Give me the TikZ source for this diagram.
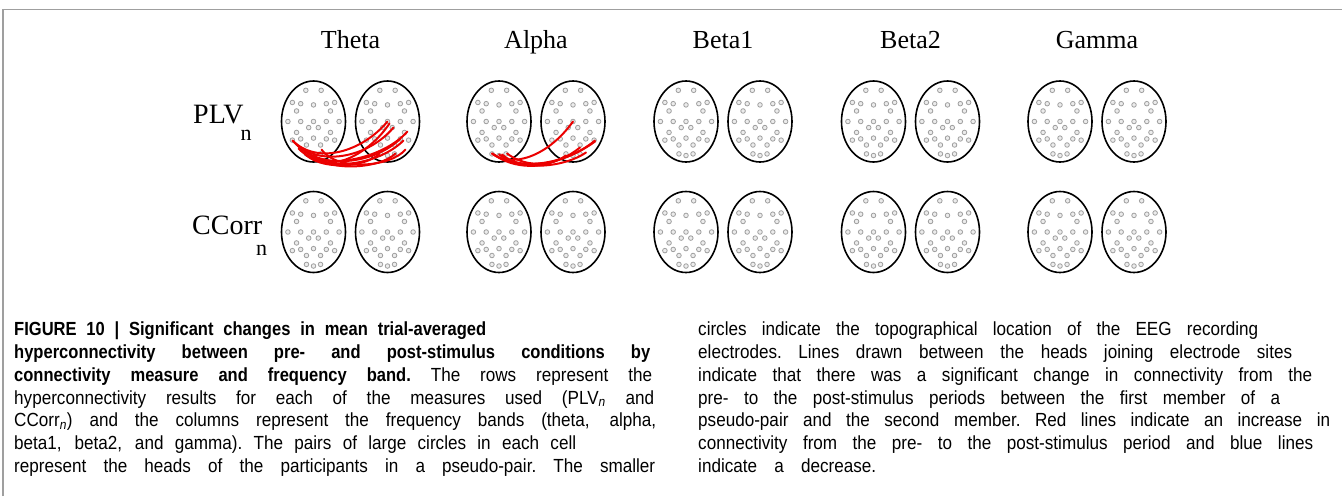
\documentclass[tikz,border=0pt]{standalone}
\usepackage{amsmath}
\usepackage{fontspec}
\usepackage{tikz}
\tikzset{>=latex}
\usetikzlibrary{calc,shapes.geometric,positioning}
\newfontfamily\headfont{Liberation Serif}
\newfontfamily\capfont[FakeStretch=0.9,BoldFeatures={FakeStretch=0.87}]{Liberation Sans}
\tikzset{
  head/.style={draw=black, line width=1.6pt, ellipse, minimum width=64pt, minimum height=81pt, inner sep=0pt},
  elec/.style={draw=gray!75, fill=gray!15, line width=0.8pt},
  link/.style={draw=red!92!black, line width=2pt, line cap=round},
  bandlabel/.style={font=\headfont\fontsize{26}{30}\selectfont, anchor=base, inner sep=0pt},
  measure/.style={font=\headfont\fontsize{28}{30}\selectfont, anchor=base west, inner sep=0pt},
  captext/.style={font=\capfont\fontsize{19}{22.7}\selectfont, text width=660pt, align=left, anchor=north west, inner sep=0pt},
  frame/.style={draw=gray!75, line width=1.5pt}
}
\newcommand{\capline}[2]{{\spaceskip=0.27em plus 1fil\xspaceskip=\spaceskip\makebox[#1pt][s]{#2}}}
\newcommand{\electrodes}[1]{%
  \foreach \u/\v in {-0.24/-0.77,0.24/-0.77,
    -0.66/-0.47,-0.40/-0.44,0/-0.41,0.40/-0.44,0.66/-0.47,
    -0.53/-0.26,0.53/-0.26,
    -0.80/0,-0.40/0,0/0,0.40/0,0.80/0,
    -0.15/0.15,0.15/0.15,
    -0.53/0.27,0.53/0.27,
    -0.66/0.46,-0.40/0.43,0/0.41,0.40/0.43,0.66/0.46,
    -0.22/0.58,0.22/0.58,
    -0.22/0.80,0/0.84,0.22/0.80}
  {
    \draw[elec] ($(#1)+({\u*32},{\v*40.5})$) circle (2.3);
  }%
}

\begin{document}
\begin{tikzpicture}[x=1pt,y=-1pt]
  \useasboundingbox (0,0) rectangle (1342,496);
  \draw[frame] (3,496) -- (3,9.5) -- (1342,9.5);

  \foreach \band/\name/\x in {theta/Theta/350.5,alpha/Alpha/536,betaA/Beta1/723,betaB/Beta2/910.5,gamma/Gamma/1097}
  {
    \node[bandlabel] (\band lab) at (\x,48) {\name};
    \foreach \row/\y in {plv/121.5,ccorr/232}
    {
      \node[head] (\band\row L) at (\x-37,\y) {};
      \node[head] (\band\row R) at (\x+37,\y) {};
      \electrodes{\band\row L}
      \electrodes{\band\row R}
    }
  }

  \node[measure] (plvlab) at (193,123) {PLV\kern-3pt\raisebox{-17pt}{\fontsize{22}{22}\selectfont n}};
  \node[measure] (ccorrlab) at (192,234) {CCorr\kern-6pt\raisebox{-21pt}{\fontsize{22}{22}\selectfont n}};

  \draw[link] ($(thetaplvL)+(-21,19)$) .. controls +(25,25) and +(-25,30) .. ($(thetaplvR)+(0,0)$);
  \draw[link] ($(thetaplvL)+(-21,19)$) .. controls +(25,28) and +(-25,30) .. ($(thetaplvR)+(6,6)$);
  \draw[link] ($(thetaplvL)+(-18,22)$) .. controls +(25,28) and +(-25,25) .. ($(thetaplvR)+(13,17)$);
  \draw[link] ($(thetaplvL)+(-15,27)$) .. controls +(22,24) and +(-25,28) .. ($(thetaplvR)+(20,10)$);
  \draw[link] ($(thetaplvL)+(-10,31)$) .. controls +(20,20) and +(-25,25) .. ($(thetaplvR)+(16,19)$);
  \draw[link] ($(thetaplvL)+(-10,31)$) .. controls +(15,18) and +(-15,15) .. ($(thetaplvR)+(-8,32)$);
  \draw[link] ($(thetaplvL)+(-4,32)$) .. controls +(20,22) and +(-20,30) .. ($(thetaplvR)+(2,2)$);
  \draw[link] ($(thetaplvL)+(0,33)$) .. controls +(15,18) and +(-15,15) .. ($(thetaplvR)+(8,32)$);
  \draw[link] ($(thetaplvL)+(8,28)$) .. controls +(15,22) and +(-15,18) .. ($(thetaplvR)+(18,28)$);

  \draw[link] ($(alphaplvL)+(-7,32)$) .. controls +(20,15) and +(-25,35) .. ($(alphaplvR)+(0,0)$);
  \draw[link] ($(alphaplvL)+(-7,32)$) .. controls +(25,18) and +(-30,25) .. ($(alphaplvR)+(22,19)$);
  \draw[link] ($(alphaplvL)+(0,33)$) .. controls +(25,18) and +(-30,22) .. ($(alphaplvR)+(22,20)$);
  \draw[link] ($(alphaplvL)+(8,32)$) .. controls +(20,15) and +(-25,20) .. ($(alphaplvR)+(7,26)$);
  \draw[link] ($(alphaplvL)+(-5,33)$) .. controls +(20,15) and +(-20,14) .. ($(alphaplvR)+(-7,34)$);
  \draw[link] ($(alphaplvL)+(3,33)$) .. controls +(20,18) and +(-20,14) .. ($(alphaplvR)+(13,31)$);

  \node[captext] (capleft) at (14,322) {%
    \capline{472}{\textbf{FIGURE 10 | Significant changes in mean trial-averaged}}\\
    \capline{636}{\textbf{hyperconnectivity between pre- and post-stimulus conditions by}}\\
    \capline{638}{\textbf{connectivity measure and frequency band.} The rows represent the}\\
    \capline{640}{hyperconnectivity results for each of the measures used (PLV\textsubscript{\textit{n}} and}\\
    \capline{642}{CCorr\textsubscript{\textit{n}}) and the columns represent the frequency bands (theta, alpha,}\\
    \capline{562}{beta1, beta2, and gamma). The pairs of large circles in each cell}\\
    \capline{641}{represent the heads of the participants in a pseudo-pair. The smaller}};
  \node[captext] (capright) at (698,322) {%
    \capline{560}{circles indicate the topographical location of the EEG recording}\\
    \capline{594}{electrodes. Lines drawn between the heads joining electrode sites}\\
    \capline{614}{indicate that there was a significant change in connectivity from the}\\
    \capline{582}{pre- to the post-stimulus periods between the first member of a}\\
    \capline{632}{pseudo-pair and the second member. Red lines indicate an increase in}\\
    \capline{615}{connectivity from the pre- to the post-stimulus period and blue lines}\\
    \capline{178}{indicate a decrease.}};
\end{tikzpicture}
\end{document}
